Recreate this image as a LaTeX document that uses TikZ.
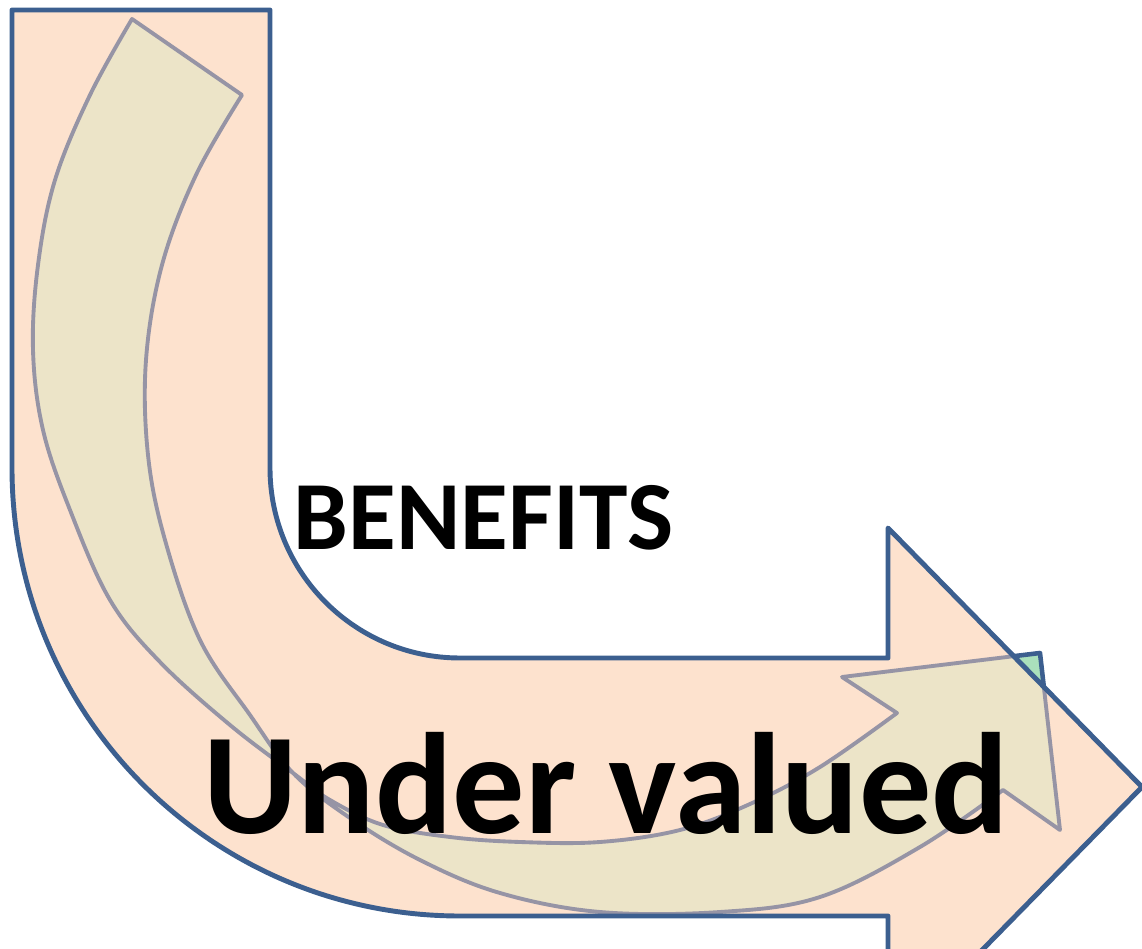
\documentclass[tikz,border=0pt]{standalone}
\usepackage{fontspec}
\setmainfont{Carlito}
\usetikzlibrary{positioning}

\definecolor{arrowblue}{RGB}{60,95,143}
\definecolor{peach}{RGB}{253,226,206}
\definecolor{bandfill}{RGB}{236,228,200}
\definecolor{bandline}{RGB}{150,148,165}
\definecolor{tipgreen}{RGB}{170,224,188}

% outline of the big bent arrow (pixel units, y downwards)
\newcommand{\bentarrowpath}{(12,10) -- (270,10) -- (270,468)
    arc[start angle=180, end angle=90, radius=190]
    -- (888,658) -- (888,528) -- (1142,787) -- (888,1046) -- (888,916)
    -- (460,916) arc[start angle=90, end angle=180, radius=448] -- cycle}

% outline of the curved band inside it
\newcommand{\curvedbandpath}{(132,19) -- plot[smooth, tension=0.6] coordinates {(242,95) (196,175) (162,265) (146,360) (148,455) (165,540) (200,640) (250,715) (293,773) (350,818) (420,860) (500,893) (600,912) (720,912) (820,897) (920,847) (1003,790)}
    -- (1060,830) -- (1040,653) -- (842,677)
    -- plot[smooth, tension=0.6] coordinates {(897,713) (820,767) (750,804) (680,830) (600,842) (520,842) (450,837) (383,825) (330,800) (293,773) (230,725) (160,662) (110,600) (70,510) (43,430) (33,350) (38,265) (55,180) (90,95) (132,19)} -- cycle}

\begin{document}
\begin{tikzpicture}[
    x=0.01cm, y=-0.01cm,
    % --- styles ---
    bent arrow/.style={fill=peach},
    bent outline/.style={draw=arrowblue, line width=1.4pt, line join=round},
    curved band/.style={fill=bandfill, draw=bandline, line width=1.1pt, line join=round},
    band tip/.style={fill=tipgreen, draw=arrowblue, line width=1.3pt, line join=round},
    label text/.style={font=\bfseries, anchor=base west, inner sep=0pt}
]
    \useasboundingbox (0,0) rectangle (1142,949);
    \clip (0,0) rectangle (1142,949);

    % --- 1. big bent arrow (fill) ---
    \fill[bent arrow] \bentarrowpath;

    % --- 2. curved band: the tip that pokes out, then the part inside ---
    \path[band tip] \curvedbandpath;
    \begin{scope}
        \clip \bentarrowpath;
        \fill[peach] \bentarrowpath;
        \path[curved band] \curvedbandpath;
    \end{scope}

    % --- 3. big bent arrow (outline on top) ---
    \draw[bent outline] \bentarrowpath;

    % --- 4. texts ---
    \coordinate (benefits_ref) at (293,550);
    \coordinate (under_ref) at (203,833);
    \node[label text, font=\fontsize{27.8}{30}\selectfont\bfseries] (benefits) at (benefits_ref) {BENEFITS};
    \node[label text, font=\fontsize{41}{44}\selectfont\bfseries] (undervalued) at (under_ref) {Under valued};

\end{tikzpicture}
\end{document}
